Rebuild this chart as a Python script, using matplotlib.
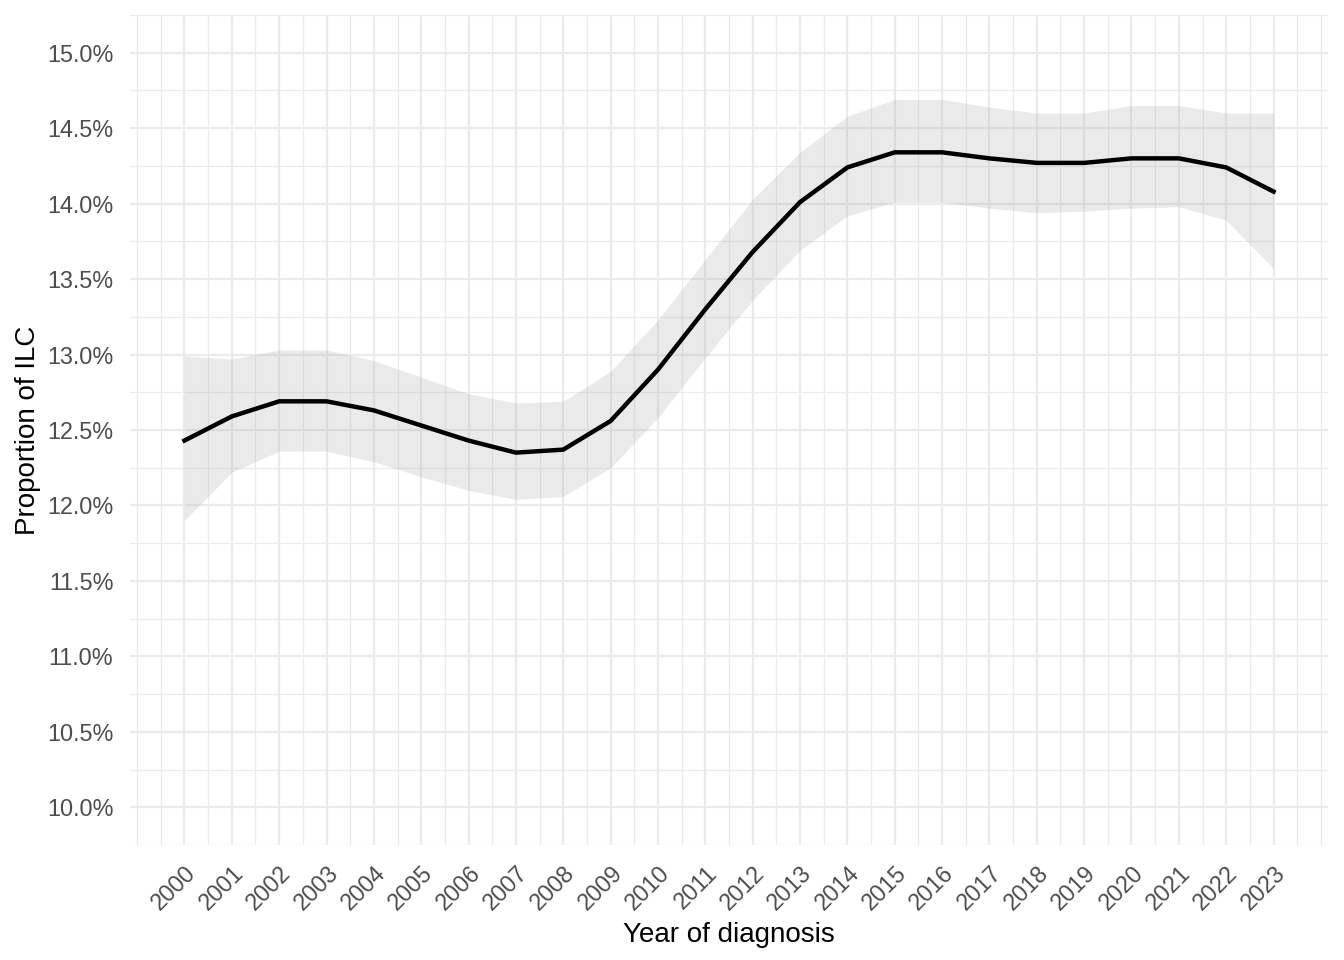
import matplotlib
matplotlib.use("Agg")
import matplotlib.pyplot as plt
import numpy as np
from matplotlib.ticker import FuncFormatter, MultipleLocator

plt.rcParams['font.family'] = ['Liberation Sans', 'DejaVu Sans']

years = list(range(2000, 2024))
proportion = [12.43, 12.59, 12.69, 12.69, 12.63, 12.53, 12.43, 12.35, 12.37, 12.56,
              12.90, 13.30, 13.68, 14.01, 14.24, 14.34, 14.34, 14.30, 14.27, 14.27,
              14.30, 14.30, 14.24, 14.08]
upper = [12.99, 12.97, 13.03, 13.03, 12.96, 12.85, 12.74, 12.68, 12.69, 12.89,
         13.23, 13.63, 14.03, 14.34, 14.58, 14.69, 14.69, 14.64, 14.60, 14.60,
         14.65, 14.65, 14.60, 14.60]
lower = [11.90, 12.22, 12.36, 12.36, 12.29, 12.19, 12.10, 12.04, 12.06, 12.25,
         12.58, 12.98, 13.36, 13.69, 13.92, 14.01, 14.01, 13.97, 13.94, 13.95,
         13.97, 13.98, 13.89, 13.57]

fig = plt.figure(figsize=(13.44, 9.6), dpi=100)
ax = fig.add_axes([130/1344, 1-845/960, (1328-130)/1344, (845-15)/960])

ax.set_xlim(2000 - 1.15, 2023 + 1.15)
ax.set_ylim(9.75, 15.25)

ax.xaxis.set_major_locator(MultipleLocator(1))
ax.xaxis.set_minor_locator(MultipleLocator(0.5))
ax.yaxis.set_major_locator(MultipleLocator(0.5))
ax.yaxis.set_minor_locator(MultipleLocator(0.25))
ax.set_xticks(years)
ax.set_xticklabels([str(y) for y in years], rotation=45, ha='right', va='top',
                   rotation_mode='anchor')
ax.yaxis.set_major_formatter(FuncFormatter(lambda v, p: f"{v:.1f}%"))

ax.grid(True, which='major', color='#EBEBEB', lw=1.6)
ax.grid(True, which='minor', color='#EBEBEB', lw=0.9)
ax.set_axisbelow(True)
for s in ax.spines.values():
    s.set_visible(False)
ax.tick_params(which='both', length=0)
ax.tick_params(axis='both', labelsize=16.8, labelcolor='#4D4D4D')
ax.tick_params(axis='x', pad=12)
ax.tick_params(axis='y', pad=12)

ax.fill_between(years, lower, upper, color='#999999', alpha=0.2, lw=0, zorder=2)
ax.plot(years, proportion, color='black', lw=3.2, zorder=3, solid_joinstyle='miter')

ax.set_xlabel("Year of diagnosis", fontsize=20, labelpad=5)
ax.set_ylabel("Proportion of ILC", fontsize=20, labelpad=4)

fig.savefig("out.png", dpi=100, facecolor='white')
